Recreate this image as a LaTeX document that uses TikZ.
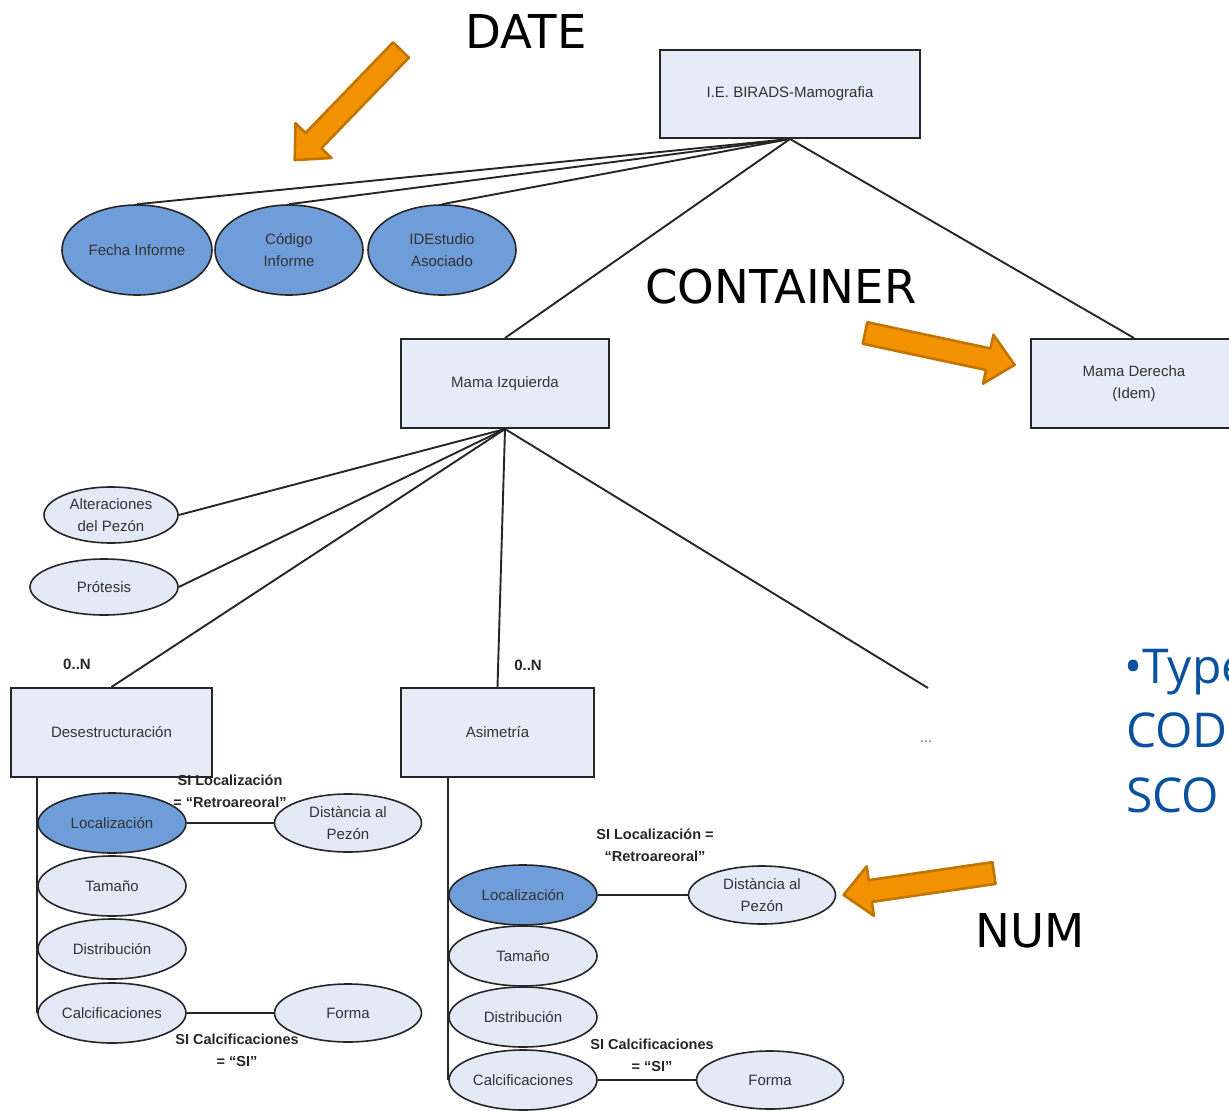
\documentclass[tikz,border=0pt]{standalone}
\usepackage{fontspec}
\setmainfont{Liberation Sans}
\newfontfamily\calloutfont{DejaVu Sans}
\newfontfamily\notefont{Open Sans}
\usetikzlibrary{shapes.geometric,backgrounds}

\definecolor{boxfill}{HTML}{E6ECF7}
\definecolor{lightell}{HTML}{E3EAF6}
\definecolor{darkell}{HTML}{6F9DD9}
\definecolor{edge}{HTML}{262626}
\definecolor{arrowfill}{HTML}{F39200}
\definecolor{arrowedge}{HTML}{C27400}
\definecolor{noteblue}{HTML}{0A52A0}

\tikzset{
  entity/.style={rectangle, draw=edge, line width=2pt, fill=boxfill, inner sep=0pt,
    font=\fontsize{15}{22}\selectfont, text=black!80, align=center},
  attr/.style={ellipse, draw=edge, line width=1.6pt, fill=lightell, inner sep=0pt,
    minimum width=148pt, minimum height=60pt,
    font=\fontsize{15}{22}\selectfont, text=black!80, align=center},
  keyattr/.style={attr, fill=darkell},
  link/.style={draw=edge, line width=1.9pt},
  cond/.style={font=\bfseries\fontsize{14.5}{22}\selectfont, text=black!85, align=center, inner sep=0pt},
  card/.style={font=\bfseries\fontsize{15}{18}\selectfont, text=black!85, inner sep=0pt},
  callout/.style={fill=arrowfill, draw=arrowedge, line width=2.6pt, line join=round},
  tag/.style={font=\calloutfont\fontsize{46.6}{50}\selectfont, inner sep=0pt, anchor=base west},
  note/.style={font=\notefont\fontsize{48}{62}\selectfont, text=noteblue, inner sep=0pt, anchor=base west},
}

% block arrow: tail centre, direction (degrees), length
\newcommand{\blockarrow}[3]{%
  \begin{scope}[shift={#1}, rotate=#2]
    \draw[callout] (0,-11) -- (#3-27,-11) -- (#3-27,-25) -- (#3,0)
      -- (#3-27,25) -- (#3-27,11) -- (0,11) -- cycle;
  \end{scope}}

\begin{document}
\begin{tikzpicture}[x=1pt, y=-1pt]
\useasboundingbox (0,0) rectangle (1229,1111);

% root and report attributes
\node[entity, minimum width=260pt, minimum height=88pt] (birads) at (790,94) {I.E. BIRADS-Mamografia};
\node[keyattr, minimum width=150pt, minimum height=90pt] (fecha)  at (137,250) {Fecha Informe};
\node[keyattr, minimum width=148pt, minimum height=90pt] (codigo) at (289,250) {Código\\Informe};
\node[keyattr, minimum width=148pt, minimum height=90pt] (idest)  at (442,250) {IDEstudio\\Asociado};

% breasts
\node[entity, minimum width=208pt, minimum height=89pt] (izq) at (505,383.5) {Mama Izquierda};
\node[entity, minimum width=206pt, minimum height=89pt] (der) at (1134,383.5) {Mama Derecha\\(Idem)};

% findings of the left breast
\node[attr, minimum width=134pt, minimum height=56pt] (alter) at (111,515) {Alteraciones\\del Pezón};
\node[attr, minimum width=148pt, minimum height=56pt] (prot)  at (104,587) {Prótesis};
\node[entity, minimum width=201pt, minimum height=89pt] (dese) at (111.5,732.5) {Desestructuración};
\node[entity, minimum width=193pt, minimum height=89pt] (asim) at (497.5,732.5) {Asimetría};
\node[card] (cardA) at (77,664) {0..N};
\node[card] (cardB) at (528,665) {0..N};
\node[font=\fontsize{15}{18}\selectfont, text=black!60] (more) at (926,742) {...};
\coordinate (moreend) at (928,688);

% Desestructuracion attributes
\node[keyattr] (loc1) at (112,823) {Localización};
\node[attr]    (tam1) at (112,886) {Tamaño};
\node[attr]    (dis1) at (112,949) {Distribución};
\node[attr]    (cal1) at (112,1013) {Calcificaciones};
\node[attr, minimum width=147pt, minimum height=58pt] (dist1)  at (348,823) {Distància al\\Pezón};
\node[attr, minimum width=147pt, minimum height=58pt] (forma1) at (348,1013) {Forma};

% Asimetria attributes
\node[keyattr] (loc2) at (523,895) {Localización};
\node[font=\fontsize{7}{8}\selectfont, text=black!70, inner sep=0pt] (tick) at (500,923) {...};
\node[attr]    (tam2) at (523,956) {Tamaño};
\node[attr]    (dis2) at (523,1017) {Distribución};
\node[attr]    (cal2) at (523,1080) {Calcificaciones};
\node[attr, minimum width=147pt, minimum height=58pt] (dist2)  at (762,895) {Distància al\\Pezón};
\node[attr, minimum width=147pt, minimum height=58pt] (forma2) at (770,1080) {Forma};

% conditions
\node[cond] (c1) at (230,791.5) {SI Localización\\= “Retroareoral”};
\node[cond] (c2) at (655,845.5) {SI Localización =\\“Retroareoral”};
\node[cond] (c3) at (237,1050.5) {SI Calcificaciones\\= “SI”};
\node[cond] (c4) at (652,1055) {SI Calcificaciones\\= “SI”};

% connectors
\begin{scope}[on background layer]
  \draw[link] (birads.south) -- (fecha.north);
  \draw[link] (birads.south) -- (codigo.north);
  \draw[link] (birads.south) -- (idest.north);
  \draw[link] (birads.south) -- (izq.north);
  \draw[link] (birads.south) -- (der.north);
  \draw[link] (izq.south) -- (alter.east);
  \draw[link] (izq.south) -- (prot.east);
  \draw[link] (izq.south) -- (dese.north);
  \draw[link] (izq.south) -- (asim.north);
  \draw[link] (izq.south) -- (moreend);
  \draw[link] (dese.south -| loc1.west) -- (cal1.west);
  \draw[link] (loc1.east) -- (dist1.west);
  \draw[link] (cal1.east) -- (forma1.west);
  \draw[link] (asim.south -| loc2.west) -- (cal2.west);
  \draw[link] (loc2.east) -- (dist2.west);
  \draw[link] (cal2.east) -- (forma2.west);
\end{scope}

% type callouts
\node[tag] (tdate) at (465,48) {DATE};
\node[tag] (tcont) at (645,303) {CONTAINER};
\node[tag] (tnum)  at (975,947) {NUM};
\blockarrow{(401,50)}{226}{153}
\blockarrow{(865,333)}{-12}{153}
\blockarrow{(994,873)}{188.3}{152}

% side note
\node[note] (n1) at (1124,683) {•Type};
\node[note] (n2) at (1126,747) {COD};
\node[note] (n3) at (1126,812) {SCO};
\end{tikzpicture}
\end{document}
